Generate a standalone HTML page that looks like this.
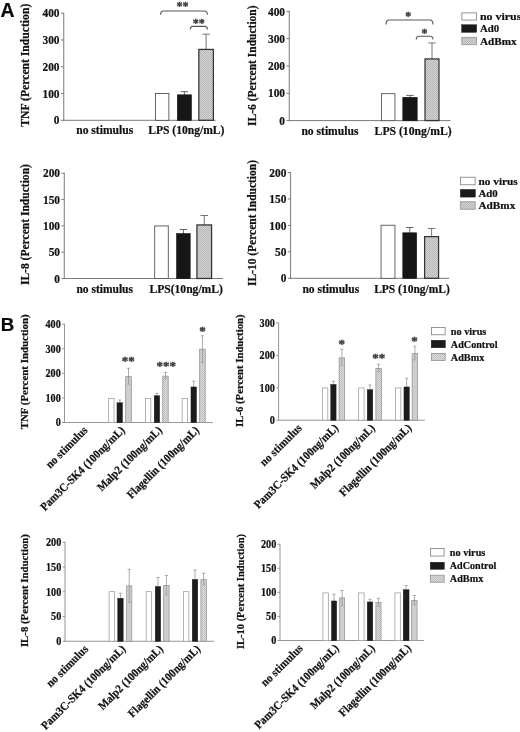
<!DOCTYPE html>
<html lang="en"><head><meta charset="utf-8"><title>Figure: cytokine induction</title>
<style>html,body{margin:0;padding:0;background:#fff}body{width:520px;height:732px;overflow:hidden}svg{display:block;filter:blur(.35px)}text{stroke:#111;stroke-width:.22px}</style>
</head><body>
<svg width='520' height='732' viewBox='0 0 520 732' font-family='"Liberation Serif","Times New Roman",Times,serif' font-weight='bold' fill='#111'>
<defs>
<pattern id="hA" width="2" height="2" patternUnits="userSpaceOnUse"><rect width="2" height="2" fill="#d4d4d4"/><rect width="1" height="1" fill="#b4b4b4"/><rect x="1" y="1" width="1" height="1" fill="#b9b9b9"/></pattern>
<pattern id="hB" width="2" height="2" patternUnits="userSpaceOnUse"><rect width="2" height="2" fill="#dadada"/><rect width="1" height="1" fill="#c0c0c0"/><rect x="1" y="1" width="1" height="1" fill="#c4c4c4"/></pattern>
</defs>
<rect width="520" height="732" fill="#fff"/>
<text x="0.5" y="16.7" font-size="19.4" fill="#0a0a0a" font-family='"Liberation Sans",Arial,Helvetica,sans-serif'>A</text>
<text x="0.8" y="330.7" font-size="18.7" fill="#0a0a0a" font-family='"Liberation Sans",Arial,Helvetica,sans-serif'>B</text>
<line x1="63.75" y1="12.7" x2="63.75" y2="120.8" stroke="#7a7a7a" stroke-width="1"/>
<line x1="63.25" y1="120.3" x2="215.6" y2="120.3" stroke="#7a7a7a" stroke-width="1"/>
<line x1="60.95" y1="120.3" x2="63.75" y2="120.3" stroke="#7a7a7a" stroke-width="1"/>
<text x="59.55" y="124.44" font-size="12.37" text-anchor="end" textLength="5.7" lengthAdjust="spacingAndGlyphs">0</text>
<line x1="60.95" y1="93.53" x2="63.75" y2="93.53" stroke="#7a7a7a" stroke-width="1"/>
<text x="59.55" y="97.67" font-size="12.37" text-anchor="end" textLength="17.1" lengthAdjust="spacingAndGlyphs">100</text>
<line x1="60.95" y1="66.75" x2="63.75" y2="66.75" stroke="#7a7a7a" stroke-width="1"/>
<text x="59.55" y="70.89" font-size="12.37" text-anchor="end" textLength="17.1" lengthAdjust="spacingAndGlyphs">200</text>
<line x1="60.95" y1="39.98" x2="63.75" y2="39.98" stroke="#7a7a7a" stroke-width="1"/>
<text x="59.55" y="44.12" font-size="12.37" text-anchor="end" textLength="17.1" lengthAdjust="spacingAndGlyphs">300</text>
<line x1="60.95" y1="13.2" x2="63.75" y2="13.2" stroke="#7a7a7a" stroke-width="1"/>
<text x="59.55" y="17.34" font-size="12.37" text-anchor="end" textLength="17.1" lengthAdjust="spacingAndGlyphs">400</text>
<rect x="155.45" y="93.45" width="13.4" height="26.9" fill="#fff" stroke="#555" stroke-width="0.9"/>
<line x1="184.4" y1="91.7" x2="184.4" y2="95.5" stroke="#555" stroke-width="0.9"/>
<line x1="180.65" y1="91.7" x2="188.15" y2="91.7" stroke="#555" stroke-width="0.9"/>
<rect x="177.3" y="94.8" width="14.2" height="25.7" fill="#161616" stroke="#161616" stroke-width="0.6"/>
<line x1="206.1" y1="34.2" x2="206.1" y2="49.8" stroke="#666" stroke-width="0.9"/>
<line x1="202.35" y1="34.2" x2="209.85" y2="34.2" stroke="#666" stroke-width="0.9"/>
<rect x="198.82" y="49.42" width="14.55" height="70.85" fill="url(#hA)" stroke="#333" stroke-width="1.25"/>
<path d="M160.5 14.8 Q160.5 11 163.7 11 L204.2 11 Q207.4 11 207.4 14.8" fill="none" stroke="#5a5a5a" stroke-width="1.15"/>
<text x="182.6" y="9.94" font-size="12" text-anchor="middle" fill="#3a3a3a" style="stroke:#3a3a3a;stroke-width:.35px">**</text>
<path d="M190.3 29.4 Q190.3 26.4 192.9 26.4 L204.8 26.4 Q207.4 26.4 207.4 29.4" fill="none" stroke="#5a5a5a" stroke-width="1.15"/>
<text x="198.8" y="26.74" font-size="12" text-anchor="middle" fill="#3a3a3a" style="stroke:#3a3a3a;stroke-width:.35px">**</text>
<text x="76.2" y="134.4" font-size="12.3" textLength="57" lengthAdjust="spacingAndGlyphs">no stimulus</text>
<text x="148.2" y="134.4" font-size="12.3" textLength="76.2" lengthAdjust="spacingAndGlyphs">LPS (10ng/mL)</text>
<text x="29.4" y="65.2" font-size="11.9" text-anchor="middle" textLength="123" lengthAdjust="spacingAndGlyphs" transform="rotate(-90 29.4 65.2)">TNF (Percent Induction)</text>
<line x1="289.25" y1="10.9" x2="289.25" y2="121.1" stroke="#7a7a7a" stroke-width="1"/>
<line x1="288.75" y1="120.6" x2="450.5" y2="120.6" stroke="#7a7a7a" stroke-width="1"/>
<line x1="286.45" y1="120.6" x2="289.25" y2="120.6" stroke="#7a7a7a" stroke-width="1"/>
<text x="285.05" y="124.74" font-size="12.37" text-anchor="end" textLength="5.7" lengthAdjust="spacingAndGlyphs">0</text>
<line x1="286.45" y1="93.3" x2="289.25" y2="93.3" stroke="#7a7a7a" stroke-width="1"/>
<text x="285.05" y="97.44" font-size="12.37" text-anchor="end" textLength="17.1" lengthAdjust="spacingAndGlyphs">100</text>
<line x1="286.45" y1="66" x2="289.25" y2="66" stroke="#7a7a7a" stroke-width="1"/>
<text x="285.05" y="70.14" font-size="12.37" text-anchor="end" textLength="17.1" lengthAdjust="spacingAndGlyphs">200</text>
<line x1="286.45" y1="38.7" x2="289.25" y2="38.7" stroke="#7a7a7a" stroke-width="1"/>
<text x="285.05" y="42.84" font-size="12.37" text-anchor="end" textLength="17.1" lengthAdjust="spacingAndGlyphs">300</text>
<line x1="286.45" y1="11.4" x2="289.25" y2="11.4" stroke="#7a7a7a" stroke-width="1"/>
<text x="285.05" y="15.54" font-size="12.37" text-anchor="end" textLength="17.1" lengthAdjust="spacingAndGlyphs">400</text>
<rect x="381.45" y="93.65" width="13.5" height="27" fill="#fff" stroke="#555" stroke-width="0.9"/>
<line x1="410" y1="95.4" x2="410" y2="98" stroke="#555" stroke-width="0.9"/>
<line x1="406.25" y1="95.4" x2="413.75" y2="95.4" stroke="#555" stroke-width="0.9"/>
<rect x="402.8" y="97.3" width="14.4" height="23.5" fill="#161616" stroke="#161616" stroke-width="0.6"/>
<line x1="432" y1="43" x2="432" y2="59.3" stroke="#666" stroke-width="0.9"/>
<line x1="428.25" y1="43" x2="435.75" y2="43" stroke="#666" stroke-width="0.9"/>
<rect x="425.02" y="58.92" width="13.95" height="61.65" fill="url(#hA)" stroke="#333" stroke-width="1.25"/>
<path d="M386 24.4 Q386 20 389.2 20 L429.8 20 Q433 20 433 24.4" fill="none" stroke="#5a5a5a" stroke-width="1.15"/>
<text x="408.3" y="19.74" font-size="12" text-anchor="middle" fill="#3a3a3a" style="stroke:#3a3a3a;stroke-width:.35px">*</text>
<path d="M416.3 39.6 Q416.3 36.2 418.9 36.2 L430.4 36.2 Q433 36.2 433 39.6" fill="none" stroke="#5a5a5a" stroke-width="1.15"/>
<text x="424.6" y="36.74" font-size="12" text-anchor="middle" fill="#3a3a3a" style="stroke:#3a3a3a;stroke-width:.35px">*</text>
<text x="301.4" y="134.8" font-size="12.3" textLength="57" lengthAdjust="spacingAndGlyphs">no stimulus</text>
<text x="374.6" y="134.8" font-size="12.3" textLength="77" lengthAdjust="spacingAndGlyphs">LPS (10ng/mL)</text>
<text x="256.5" y="65.7" font-size="12.1" text-anchor="middle" textLength="120.5" lengthAdjust="spacingAndGlyphs" transform="rotate(-90 256.5 65.7)">IL-6 (Percent Induction)</text>
<rect x="461.85" y="12.85" width="14.6" height="7.2" fill="#fff" stroke="#8a8a8a" stroke-width="0.9"/>
<rect x="461.6" y="24.7" width="15.1" height="7.7" fill="#1a1a1a" stroke="#1a1a1a" stroke-width="0.4"/>
<rect x="461.85" y="37.35" width="14.6" height="7.3" fill="url(#hA)" stroke="#9a9a9a" stroke-width="0.9"/>
<text x="479.9" y="19.8" font-size="11.4" textLength="41.5" lengthAdjust="spacingAndGlyphs">no virus</text>
<text x="479.9" y="31.9" font-size="11.4" textLength="19.2" lengthAdjust="spacingAndGlyphs">Ad0</text>
<text x="479.9" y="44.7" font-size="11.4" textLength="36.7" lengthAdjust="spacingAndGlyphs">AdBmx</text>
<line x1="64.25" y1="172.75" x2="64.25" y2="279" stroke="#7a7a7a" stroke-width="1"/>
<line x1="63.75" y1="278.5" x2="223" y2="278.5" stroke="#7a7a7a" stroke-width="1"/>
<line x1="61.45" y1="278.5" x2="64.25" y2="278.5" stroke="#7a7a7a" stroke-width="1"/>
<text x="60.05" y="282.64" font-size="12.37" text-anchor="end" textLength="5.7" lengthAdjust="spacingAndGlyphs">0</text>
<line x1="61.45" y1="252.19" x2="64.25" y2="252.19" stroke="#7a7a7a" stroke-width="1"/>
<text x="60.05" y="256.33" font-size="12.37" text-anchor="end" textLength="11.4" lengthAdjust="spacingAndGlyphs">50</text>
<line x1="61.45" y1="225.88" x2="64.25" y2="225.88" stroke="#7a7a7a" stroke-width="1"/>
<text x="60.05" y="230.02" font-size="12.37" text-anchor="end" textLength="17.1" lengthAdjust="spacingAndGlyphs">100</text>
<line x1="61.45" y1="199.56" x2="64.25" y2="199.56" stroke="#7a7a7a" stroke-width="1"/>
<text x="60.05" y="203.71" font-size="12.37" text-anchor="end" textLength="17.1" lengthAdjust="spacingAndGlyphs">150</text>
<line x1="61.45" y1="173.25" x2="64.25" y2="173.25" stroke="#7a7a7a" stroke-width="1"/>
<text x="60.05" y="177.39" font-size="12.37" text-anchor="end" textLength="17.1" lengthAdjust="spacingAndGlyphs">200</text>
<rect x="154.7" y="225.95" width="13.6" height="52.6" fill="#fff" stroke="#555" stroke-width="0.9"/>
<line x1="183.38" y1="229.5" x2="183.38" y2="234.25" stroke="#555" stroke-width="0.9"/>
<line x1="179.62" y1="229.5" x2="187.12" y2="229.5" stroke="#555" stroke-width="0.9"/>
<rect x="176.55" y="233.55" width="13.65" height="45.15" fill="#161616" stroke="#161616" stroke-width="0.6"/>
<line x1="204.25" y1="215.5" x2="204.25" y2="225.3" stroke="#666" stroke-width="0.9"/>
<line x1="200.5" y1="215.5" x2="208" y2="215.5" stroke="#666" stroke-width="0.9"/>
<rect x="196.93" y="224.93" width="14.65" height="53.55" fill="url(#hA)" stroke="#333" stroke-width="1.25"/>
<text x="76.4" y="292.8" font-size="12.3" textLength="56.6" lengthAdjust="spacingAndGlyphs">no stimulus</text>
<text x="149.4" y="292.8" font-size="12.3" textLength="73.5" lengthAdjust="spacingAndGlyphs">LPS(10ng/mL)</text>
<text x="28.7" y="224.6" font-size="12.1" text-anchor="middle" textLength="121" lengthAdjust="spacingAndGlyphs" transform="rotate(-90 28.7 224.6)">IL-8 (Percent Induction)</text>
<line x1="290.6" y1="172" x2="290.6" y2="278.8" stroke="#7a7a7a" stroke-width="1"/>
<line x1="290.1" y1="278.3" x2="449.3" y2="278.3" stroke="#7a7a7a" stroke-width="1"/>
<line x1="287.8" y1="278.3" x2="290.6" y2="278.3" stroke="#7a7a7a" stroke-width="1"/>
<text x="286.4" y="282.44" font-size="12.37" text-anchor="end" textLength="5.7" lengthAdjust="spacingAndGlyphs">0</text>
<line x1="287.8" y1="251.85" x2="290.6" y2="251.85" stroke="#7a7a7a" stroke-width="1"/>
<text x="286.4" y="255.99" font-size="12.37" text-anchor="end" textLength="11.4" lengthAdjust="spacingAndGlyphs">50</text>
<line x1="287.8" y1="225.4" x2="290.6" y2="225.4" stroke="#7a7a7a" stroke-width="1"/>
<text x="286.4" y="229.54" font-size="12.37" text-anchor="end" textLength="17.1" lengthAdjust="spacingAndGlyphs">100</text>
<line x1="287.8" y1="198.95" x2="290.6" y2="198.95" stroke="#7a7a7a" stroke-width="1"/>
<text x="286.4" y="203.09" font-size="12.37" text-anchor="end" textLength="17.1" lengthAdjust="spacingAndGlyphs">150</text>
<line x1="287.8" y1="172.5" x2="290.6" y2="172.5" stroke="#7a7a7a" stroke-width="1"/>
<text x="286.4" y="176.64" font-size="12.37" text-anchor="end" textLength="17.1" lengthAdjust="spacingAndGlyphs">200</text>
<rect x="381.05" y="225.25" width="13.9" height="53.1" fill="#fff" stroke="#555" stroke-width="0.9"/>
<line x1="409.75" y1="227.5" x2="409.75" y2="233.5" stroke="#555" stroke-width="0.9"/>
<line x1="406" y1="227.5" x2="413.5" y2="227.5" stroke="#555" stroke-width="0.9"/>
<rect x="402.8" y="232.8" width="13.9" height="45.7" fill="#161616" stroke="#161616" stroke-width="0.6"/>
<line x1="431.6" y1="228.5" x2="431.6" y2="237" stroke="#666" stroke-width="0.9"/>
<line x1="427.85" y1="228.5" x2="435.35" y2="228.5" stroke="#666" stroke-width="0.9"/>
<rect x="424.62" y="236.62" width="13.95" height="41.65" fill="url(#hA)" stroke="#333" stroke-width="1.25"/>
<text x="302.4" y="292.6" font-size="12.3" textLength="56.8" lengthAdjust="spacingAndGlyphs">no stimulus</text>
<text x="374.2" y="292.6" font-size="12.3" textLength="75.6" lengthAdjust="spacingAndGlyphs">LPS (10ng/mL)</text>
<text x="256.4" y="223" font-size="12.1" text-anchor="middle" textLength="126" lengthAdjust="spacingAndGlyphs" transform="rotate(-90 256.4 223)">IL-10 (Percent Induction)</text>
<rect x="460.55" y="177.25" width="14.6" height="7.5" fill="#fff" stroke="#8a8a8a" stroke-width="0.9"/>
<rect x="460.3" y="189.4" width="15.1" height="7.7" fill="#1a1a1a" stroke="#1a1a1a" stroke-width="0.4"/>
<rect x="460.55" y="201.75" width="14.6" height="7.5" fill="url(#hA)" stroke="#9a9a9a" stroke-width="0.9"/>
<text x="478.5" y="184.9" font-size="11.4" textLength="39.2" lengthAdjust="spacingAndGlyphs">no virus</text>
<text x="478.5" y="197" font-size="11.4" textLength="19.3" lengthAdjust="spacingAndGlyphs">Ad0</text>
<text x="478.5" y="209.4" font-size="11.4" textLength="36.8" lengthAdjust="spacingAndGlyphs">AdBmx</text>
<line x1="64.5" y1="323.75" x2="64.5" y2="423" stroke="#969696" stroke-width="1"/>
<line x1="64" y1="422.5" x2="212.8" y2="422.5" stroke="#969696" stroke-width="1"/>
<line x1="62.1" y1="422.5" x2="64.5" y2="422.5" stroke="#969696" stroke-width="1"/>
<text x="60.8" y="426.4" font-size="11.63" text-anchor="end" textLength="5.1" lengthAdjust="spacingAndGlyphs">0</text>
<line x1="62.1" y1="397.94" x2="64.5" y2="397.94" stroke="#969696" stroke-width="1"/>
<text x="60.8" y="401.83" font-size="11.63" text-anchor="end" textLength="15.3" lengthAdjust="spacingAndGlyphs">100</text>
<line x1="62.1" y1="373.38" x2="64.5" y2="373.38" stroke="#969696" stroke-width="1"/>
<text x="60.8" y="377.27" font-size="11.63" text-anchor="end" textLength="15.3" lengthAdjust="spacingAndGlyphs">200</text>
<line x1="62.1" y1="348.81" x2="64.5" y2="348.81" stroke="#969696" stroke-width="1"/>
<text x="60.8" y="352.71" font-size="11.63" text-anchor="end" textLength="15.3" lengthAdjust="spacingAndGlyphs">300</text>
<line x1="62.1" y1="324.25" x2="64.5" y2="324.25" stroke="#969696" stroke-width="1"/>
<text x="60.8" y="328.15" font-size="11.63" text-anchor="end" textLength="15.3" lengthAdjust="spacingAndGlyphs">400</text>
<rect x="108.65" y="398.4" width="5.35" height="24.1" fill="#fff" stroke="#a0a0a0" stroke-width="0.8"/>
<line x1="119.75" y1="400" x2="119.75" y2="403.5" stroke="#8a8a8a" stroke-width="0.7"/>
<line x1="118.15" y1="400" x2="121.35" y2="400" stroke="#8a8a8a" stroke-width="0.7"/>
<rect x="116.95" y="402.7" width="5.6" height="20" fill="#1c1c1c" stroke="#1c1c1c" stroke-width="0.4"/>
<rect x="125.65" y="376.65" width="5.7" height="45.85" fill="url(#hB)" stroke="#969696" stroke-width="0.8"/>
<line x1="128.5" y1="368.25" x2="128.5" y2="384.25" stroke="#8a8a8a" stroke-width="0.7"/>
<line x1="126.9" y1="368.25" x2="130.1" y2="368.25" stroke="#8a8a8a" stroke-width="0.7"/>
<line x1="126.9" y1="384.25" x2="130.1" y2="384.25" stroke="#9a9a9a" stroke-width="0.6"/>
<rect x="145.4" y="398.4" width="5.45" height="24.1" fill="#fff" stroke="#a0a0a0" stroke-width="0.8"/>
<line x1="156.95" y1="393.25" x2="156.95" y2="396.5" stroke="#8a8a8a" stroke-width="0.7"/>
<line x1="155.35" y1="393.25" x2="158.55" y2="393.25" stroke="#8a8a8a" stroke-width="0.7"/>
<rect x="154.2" y="395.7" width="5.5" height="27" fill="#1c1c1c" stroke="#1c1c1c" stroke-width="0.4"/>
<rect x="162.8" y="376.15" width="5.4" height="46.35" fill="url(#hB)" stroke="#969696" stroke-width="0.8"/>
<line x1="165.5" y1="372.5" x2="165.5" y2="378.75" stroke="#8a8a8a" stroke-width="0.7"/>
<line x1="163.9" y1="372.5" x2="167.1" y2="372.5" stroke="#8a8a8a" stroke-width="0.7"/>
<line x1="163.9" y1="378.75" x2="167.1" y2="378.75" stroke="#9a9a9a" stroke-width="0.6"/>
<rect x="182.15" y="398.4" width="5.45" height="24.1" fill="#fff" stroke="#a0a0a0" stroke-width="0.8"/>
<line x1="193.75" y1="381.25" x2="193.75" y2="387.75" stroke="#8a8a8a" stroke-width="0.7"/>
<line x1="192.15" y1="381.25" x2="195.35" y2="381.25" stroke="#8a8a8a" stroke-width="0.7"/>
<rect x="190.95" y="386.95" width="5.6" height="35.75" fill="#1c1c1c" stroke="#1c1c1c" stroke-width="0.4"/>
<rect x="199.65" y="349.15" width="5.55" height="73.35" fill="url(#hB)" stroke="#969696" stroke-width="0.8"/>
<line x1="202.43" y1="335.75" x2="202.43" y2="362.5" stroke="#8a8a8a" stroke-width="0.7"/>
<line x1="200.83" y1="335.75" x2="204.03" y2="335.75" stroke="#8a8a8a" stroke-width="0.7"/>
<line x1="200.83" y1="362.5" x2="204.03" y2="362.5" stroke="#9a9a9a" stroke-width="0.6"/>
<text x="128.25" y="365.31" font-size="13" text-anchor="middle" fill="#3a3a3a" style="stroke:#3a3a3a;stroke-width:.35px">**</text>
<text x="166.25" y="370.31" font-size="13" text-anchor="middle" fill="#3a3a3a" style="stroke:#3a3a3a;stroke-width:.35px">***</text>
<text x="202.5" y="334.61" font-size="13" text-anchor="middle" fill="#3a3a3a" style="stroke:#3a3a3a;stroke-width:.35px">*</text>
<text x="88.34" y="430.9" font-size="11.7" text-anchor="end" textLength="54" lengthAdjust="spacingAndGlyphs" transform="rotate(-45 88.34 430.9)">no stimulus</text>
<text x="125.53" y="430.9" font-size="11.7" text-anchor="end" textLength="114" lengthAdjust="spacingAndGlyphs" transform="rotate(-45 125.53 430.9)">Pam3C-SK4 (100ng/mL)</text>
<text x="162.72" y="430.9" font-size="11.7" text-anchor="end" textLength="86.2" lengthAdjust="spacingAndGlyphs" transform="rotate(-45 162.72 430.9)">Malp2 (100ng/mL)</text>
<text x="199.91" y="430.9" font-size="11.7" text-anchor="end" textLength="96.8" lengthAdjust="spacingAndGlyphs" transform="rotate(-45 199.91 430.9)">Flagellin (100ng/mL)</text>
<text x="28.2" y="371.8" font-size="11" text-anchor="middle" textLength="115" lengthAdjust="spacingAndGlyphs" transform="rotate(-90 28.2 371.8)">TNF (Percent Induction)</text>
<line x1="278.6" y1="322.5" x2="278.6" y2="420.7" stroke="#969696" stroke-width="1"/>
<line x1="278.1" y1="420.2" x2="424.8" y2="420.2" stroke="#969696" stroke-width="1"/>
<line x1="276.2" y1="420.2" x2="278.6" y2="420.2" stroke="#969696" stroke-width="1"/>
<text x="274.9" y="424.1" font-size="11.63" text-anchor="end" textLength="5.1" lengthAdjust="spacingAndGlyphs">0</text>
<line x1="276.2" y1="387.8" x2="278.6" y2="387.8" stroke="#969696" stroke-width="1"/>
<text x="274.9" y="391.7" font-size="11.63" text-anchor="end" textLength="15.3" lengthAdjust="spacingAndGlyphs">100</text>
<line x1="276.2" y1="355.4" x2="278.6" y2="355.4" stroke="#969696" stroke-width="1"/>
<text x="274.9" y="359.3" font-size="11.63" text-anchor="end" textLength="15.3" lengthAdjust="spacingAndGlyphs">200</text>
<line x1="276.2" y1="323" x2="278.6" y2="323" stroke="#969696" stroke-width="1"/>
<text x="274.9" y="326.9" font-size="11.63" text-anchor="end" textLength="15.3" lengthAdjust="spacingAndGlyphs">300</text>
<rect x="322.4" y="387.9" width="5.4" height="32.3" fill="#fff" stroke="#a0a0a0" stroke-width="0.8"/>
<line x1="333.4" y1="381.25" x2="333.4" y2="385.25" stroke="#8a8a8a" stroke-width="0.7"/>
<line x1="331.8" y1="381.25" x2="335" y2="381.25" stroke="#8a8a8a" stroke-width="0.7"/>
<rect x="330.7" y="384.45" width="5.4" height="35.95" fill="#1c1c1c" stroke="#1c1c1c" stroke-width="0.4"/>
<rect x="339.15" y="357.9" width="5.45" height="62.3" fill="url(#hB)" stroke="#969696" stroke-width="0.8"/>
<line x1="341.88" y1="349.25" x2="341.88" y2="365.5" stroke="#8a8a8a" stroke-width="0.7"/>
<line x1="340.27" y1="349.25" x2="343.48" y2="349.25" stroke="#8a8a8a" stroke-width="0.7"/>
<line x1="340.27" y1="365.5" x2="343.48" y2="365.5" stroke="#9a9a9a" stroke-width="0.6"/>
<rect x="358.65" y="387.9" width="5.45" height="32.3" fill="#fff" stroke="#a0a0a0" stroke-width="0.8"/>
<line x1="370" y1="385" x2="370" y2="390.5" stroke="#8a8a8a" stroke-width="0.7"/>
<line x1="368.4" y1="385" x2="371.6" y2="385" stroke="#8a8a8a" stroke-width="0.7"/>
<rect x="367.2" y="389.7" width="5.6" height="30.7" fill="#1c1c1c" stroke="#1c1c1c" stroke-width="0.4"/>
<rect x="375.9" y="368.4" width="5.45" height="51.8" fill="url(#hB)" stroke="#969696" stroke-width="0.8"/>
<line x1="378.62" y1="364.25" x2="378.62" y2="371.75" stroke="#8a8a8a" stroke-width="0.7"/>
<line x1="377.02" y1="364.25" x2="380.23" y2="364.25" stroke="#8a8a8a" stroke-width="0.7"/>
<line x1="377.02" y1="371.75" x2="380.23" y2="371.75" stroke="#9a9a9a" stroke-width="0.6"/>
<rect x="395.4" y="387.9" width="5.45" height="32.3" fill="#fff" stroke="#a0a0a0" stroke-width="0.8"/>
<line x1="406.68" y1="378.25" x2="406.68" y2="387.75" stroke="#8a8a8a" stroke-width="0.7"/>
<line x1="405.07" y1="378.25" x2="408.28" y2="378.25" stroke="#8a8a8a" stroke-width="0.7"/>
<rect x="403.95" y="386.95" width="5.45" height="33.45" fill="#1c1c1c" stroke="#1c1c1c" stroke-width="0.4"/>
<rect x="412.15" y="353.65" width="5.45" height="66.55" fill="url(#hB)" stroke="#969696" stroke-width="0.8"/>
<line x1="414.88" y1="346.25" x2="414.88" y2="360" stroke="#8a8a8a" stroke-width="0.7"/>
<line x1="413.27" y1="346.25" x2="416.48" y2="346.25" stroke="#8a8a8a" stroke-width="0.7"/>
<line x1="413.27" y1="360" x2="416.48" y2="360" stroke="#9a9a9a" stroke-width="0.6"/>
<text x="341.75" y="347.81" font-size="13" text-anchor="middle" fill="#3a3a3a" style="stroke:#3a3a3a;stroke-width:.35px">*</text>
<text x="378.75" y="362.01" font-size="13" text-anchor="middle" fill="#3a3a3a" style="stroke:#3a3a3a;stroke-width:.35px">**</text>
<text x="414.5" y="345.31" font-size="13" text-anchor="middle" fill="#3a3a3a" style="stroke:#3a3a3a;stroke-width:.35px">*</text>
<text x="302.53" y="428.6" font-size="11.7" text-anchor="end" textLength="54" lengthAdjust="spacingAndGlyphs" transform="rotate(-45 302.53 428.6)">no stimulus</text>
<text x="339.09" y="428.6" font-size="11.7" text-anchor="end" textLength="114" lengthAdjust="spacingAndGlyphs" transform="rotate(-45 339.09 428.6)">Pam3C-SK4 (100ng/mL)</text>
<text x="375.66" y="428.6" font-size="11.7" text-anchor="end" textLength="86.2" lengthAdjust="spacingAndGlyphs" transform="rotate(-45 375.66 428.6)">Malp2 (100ng/mL)</text>
<text x="412.22" y="428.6" font-size="11.7" text-anchor="end" textLength="96.8" lengthAdjust="spacingAndGlyphs" transform="rotate(-45 412.22 428.6)">Flagellin (100ng/mL)</text>
<text x="243.5" y="370.7" font-size="11" text-anchor="middle" textLength="112.5" lengthAdjust="spacingAndGlyphs" transform="rotate(-90 243.5 370.7)">IL-6 (Percent Induction)</text>
<rect x="431.45" y="327.45" width="13.7" height="7.3" fill="#fff" stroke="#8a8a8a" stroke-width="0.9"/>
<rect x="431.2" y="340.2" width="14.2" height="7.6" fill="#1a1a1a" stroke="#1a1a1a" stroke-width="0.4"/>
<rect x="431.45" y="353.45" width="13.7" height="7.1" fill="url(#hB)" stroke="#9a9a9a" stroke-width="0.9"/>
<text x="450.8" y="334.8" font-size="11.2" textLength="35.5" lengthAdjust="spacingAndGlyphs">no virus</text>
<text x="450.8" y="347.7" font-size="11.2" textLength="46.7" lengthAdjust="spacingAndGlyphs">AdControl</text>
<text x="450.8" y="360.8" font-size="11.2" textLength="33.5" lengthAdjust="spacingAndGlyphs">AdBmx</text>
<line x1="65" y1="541.8" x2="65" y2="641.75" stroke="#969696" stroke-width="1"/>
<line x1="64.5" y1="641.25" x2="214" y2="641.25" stroke="#969696" stroke-width="1"/>
<line x1="62.6" y1="641.25" x2="65" y2="641.25" stroke="#969696" stroke-width="1"/>
<text x="61.3" y="645.15" font-size="11.63" text-anchor="end" textLength="5.1" lengthAdjust="spacingAndGlyphs">0</text>
<line x1="62.6" y1="616.51" x2="65" y2="616.51" stroke="#969696" stroke-width="1"/>
<text x="61.3" y="620.41" font-size="11.63" text-anchor="end" textLength="10.2" lengthAdjust="spacingAndGlyphs">50</text>
<line x1="62.6" y1="591.77" x2="65" y2="591.77" stroke="#969696" stroke-width="1"/>
<text x="61.3" y="595.67" font-size="11.63" text-anchor="end" textLength="15.3" lengthAdjust="spacingAndGlyphs">100</text>
<line x1="62.6" y1="567.04" x2="65" y2="567.04" stroke="#969696" stroke-width="1"/>
<text x="61.3" y="570.93" font-size="11.63" text-anchor="end" textLength="15.3" lengthAdjust="spacingAndGlyphs">150</text>
<line x1="62.6" y1="542.3" x2="65" y2="542.3" stroke="#969696" stroke-width="1"/>
<text x="61.3" y="546.2" font-size="11.63" text-anchor="end" textLength="15.3" lengthAdjust="spacingAndGlyphs">200</text>
<rect x="109.15" y="591.65" width="5.45" height="49.6" fill="#fff" stroke="#a0a0a0" stroke-width="0.8"/>
<line x1="120.45" y1="593.25" x2="120.45" y2="599" stroke="#8a8a8a" stroke-width="0.7"/>
<line x1="118.85" y1="593.25" x2="122.05" y2="593.25" stroke="#8a8a8a" stroke-width="0.7"/>
<rect x="117.7" y="598.2" width="5.5" height="43.25" fill="#1c1c1c" stroke="#1c1c1c" stroke-width="0.4"/>
<rect x="126.65" y="585.9" width="5.15" height="55.35" fill="url(#hB)" stroke="#969696" stroke-width="0.8"/>
<line x1="129.22" y1="569.25" x2="129.22" y2="602.5" stroke="#8a8a8a" stroke-width="0.7"/>
<line x1="127.62" y1="569.25" x2="130.82" y2="569.25" stroke="#8a8a8a" stroke-width="0.7"/>
<line x1="127.62" y1="602.5" x2="130.82" y2="602.5" stroke="#9a9a9a" stroke-width="0.6"/>
<rect x="146.15" y="591.65" width="5.45" height="49.6" fill="#fff" stroke="#a0a0a0" stroke-width="0.8"/>
<line x1="157.95" y1="577.5" x2="157.95" y2="587.25" stroke="#8a8a8a" stroke-width="0.7"/>
<line x1="156.35" y1="577.5" x2="159.55" y2="577.5" stroke="#8a8a8a" stroke-width="0.7"/>
<rect x="155.2" y="586.45" width="5.5" height="55" fill="#1c1c1c" stroke="#1c1c1c" stroke-width="0.4"/>
<rect x="163.65" y="585.4" width="5.45" height="55.85" fill="url(#hB)" stroke="#969696" stroke-width="0.8"/>
<line x1="166.38" y1="575.5" x2="166.38" y2="595" stroke="#8a8a8a" stroke-width="0.7"/>
<line x1="164.78" y1="575.5" x2="167.97" y2="575.5" stroke="#8a8a8a" stroke-width="0.7"/>
<line x1="164.78" y1="595" x2="167.97" y2="595" stroke="#9a9a9a" stroke-width="0.6"/>
<rect x="183.4" y="591.65" width="5.45" height="49.6" fill="#fff" stroke="#a0a0a0" stroke-width="0.8"/>
<line x1="195" y1="570" x2="195" y2="580.25" stroke="#8a8a8a" stroke-width="0.7"/>
<line x1="193.4" y1="570" x2="196.6" y2="570" stroke="#8a8a8a" stroke-width="0.7"/>
<rect x="192.2" y="579.45" width="5.6" height="62" fill="#1c1c1c" stroke="#1c1c1c" stroke-width="0.4"/>
<rect x="200.9" y="579.65" width="5.45" height="61.6" fill="url(#hB)" stroke="#969696" stroke-width="0.8"/>
<line x1="203.62" y1="573.25" x2="203.62" y2="585" stroke="#8a8a8a" stroke-width="0.7"/>
<line x1="202.03" y1="573.25" x2="205.22" y2="573.25" stroke="#8a8a8a" stroke-width="0.7"/>
<line x1="202.03" y1="585" x2="205.22" y2="585" stroke="#9a9a9a" stroke-width="0.6"/>
<text x="88.94" y="649.65" font-size="11.7" text-anchor="end" textLength="54" lengthAdjust="spacingAndGlyphs" transform="rotate(-45 88.94 649.65)">no stimulus</text>
<text x="126.31" y="649.65" font-size="11.7" text-anchor="end" textLength="114" lengthAdjust="spacingAndGlyphs" transform="rotate(-45 126.31 649.65)">Pam3C-SK4 (100ng/mL)</text>
<text x="163.69" y="649.65" font-size="11.7" text-anchor="end" textLength="86.2" lengthAdjust="spacingAndGlyphs" transform="rotate(-45 163.69 649.65)">Malp2 (100ng/mL)</text>
<text x="201.06" y="649.65" font-size="11.7" text-anchor="end" textLength="96.8" lengthAdjust="spacingAndGlyphs" transform="rotate(-45 201.06 649.65)">Flagellin (100ng/mL)</text>
<text x="27.9" y="590.6" font-size="11" text-anchor="middle" textLength="113" lengthAdjust="spacingAndGlyphs" transform="rotate(-90 27.9 590.6)">IL-8 (Percent Induction)</text>
<line x1="280" y1="543.75" x2="280" y2="641" stroke="#969696" stroke-width="1"/>
<line x1="279.5" y1="640.5" x2="424" y2="640.5" stroke="#969696" stroke-width="1"/>
<line x1="277.6" y1="640.5" x2="280" y2="640.5" stroke="#969696" stroke-width="1"/>
<text x="276.3" y="644.4" font-size="11.63" text-anchor="end" textLength="5.1" lengthAdjust="spacingAndGlyphs">0</text>
<line x1="277.6" y1="616.44" x2="280" y2="616.44" stroke="#969696" stroke-width="1"/>
<text x="276.3" y="620.33" font-size="11.63" text-anchor="end" textLength="10.2" lengthAdjust="spacingAndGlyphs">50</text>
<line x1="277.6" y1="592.38" x2="280" y2="592.38" stroke="#969696" stroke-width="1"/>
<text x="276.3" y="596.27" font-size="11.63" text-anchor="end" textLength="15.3" lengthAdjust="spacingAndGlyphs">100</text>
<line x1="277.6" y1="568.31" x2="280" y2="568.31" stroke="#969696" stroke-width="1"/>
<text x="276.3" y="572.21" font-size="11.63" text-anchor="end" textLength="15.3" lengthAdjust="spacingAndGlyphs">150</text>
<line x1="277.6" y1="544.25" x2="280" y2="544.25" stroke="#969696" stroke-width="1"/>
<text x="276.3" y="548.15" font-size="11.63" text-anchor="end" textLength="15.3" lengthAdjust="spacingAndGlyphs">200</text>
<rect x="322.9" y="592.9" width="5.45" height="47.6" fill="#fff" stroke="#a0a0a0" stroke-width="0.8"/>
<line x1="334.07" y1="594.25" x2="334.07" y2="601.75" stroke="#8a8a8a" stroke-width="0.7"/>
<line x1="332.47" y1="594.25" x2="335.68" y2="594.25" stroke="#8a8a8a" stroke-width="0.7"/>
<rect x="331.45" y="600.95" width="5.25" height="39.75" fill="#1c1c1c" stroke="#1c1c1c" stroke-width="0.4"/>
<rect x="339.65" y="597.9" width="4.95" height="42.6" fill="url(#hB)" stroke="#969696" stroke-width="0.8"/>
<line x1="342.12" y1="590.5" x2="342.12" y2="605.75" stroke="#8a8a8a" stroke-width="0.7"/>
<line x1="340.52" y1="590.5" x2="343.73" y2="590.5" stroke="#8a8a8a" stroke-width="0.7"/>
<line x1="340.52" y1="605.75" x2="343.73" y2="605.75" stroke="#9a9a9a" stroke-width="0.6"/>
<rect x="358.65" y="592.9" width="5.45" height="47.6" fill="#fff" stroke="#a0a0a0" stroke-width="0.8"/>
<line x1="370" y1="599.25" x2="370" y2="602.75" stroke="#8a8a8a" stroke-width="0.7"/>
<line x1="368.4" y1="599.25" x2="371.6" y2="599.25" stroke="#8a8a8a" stroke-width="0.7"/>
<rect x="367.2" y="601.95" width="5.6" height="38.75" fill="#1c1c1c" stroke="#1c1c1c" stroke-width="0.4"/>
<rect x="375.9" y="602.4" width="5.1" height="38.1" fill="url(#hB)" stroke="#969696" stroke-width="0.8"/>
<line x1="378.45" y1="598.25" x2="378.45" y2="606.25" stroke="#8a8a8a" stroke-width="0.7"/>
<line x1="376.85" y1="598.25" x2="380.05" y2="598.25" stroke="#8a8a8a" stroke-width="0.7"/>
<line x1="376.85" y1="606.25" x2="380.05" y2="606.25" stroke="#9a9a9a" stroke-width="0.6"/>
<rect x="394.9" y="592.9" width="5.45" height="47.6" fill="#fff" stroke="#a0a0a0" stroke-width="0.8"/>
<line x1="406.12" y1="585.5" x2="406.12" y2="590.5" stroke="#8a8a8a" stroke-width="0.7"/>
<line x1="404.52" y1="585.5" x2="407.73" y2="585.5" stroke="#8a8a8a" stroke-width="0.7"/>
<rect x="403.2" y="589.7" width="5.85" height="51" fill="#1c1c1c" stroke="#1c1c1c" stroke-width="0.4"/>
<rect x="411.65" y="600.4" width="5.45" height="40.1" fill="url(#hB)" stroke="#969696" stroke-width="0.8"/>
<line x1="414.38" y1="595.5" x2="414.38" y2="605" stroke="#8a8a8a" stroke-width="0.7"/>
<line x1="412.77" y1="595.5" x2="415.98" y2="595.5" stroke="#8a8a8a" stroke-width="0.7"/>
<line x1="412.77" y1="605" x2="415.98" y2="605" stroke="#9a9a9a" stroke-width="0.6"/>
<text x="303.53" y="648.9" font-size="11.7" text-anchor="end" textLength="54" lengthAdjust="spacingAndGlyphs" transform="rotate(-45 303.53 648.9)">no stimulus</text>
<text x="339.59" y="648.9" font-size="11.7" text-anchor="end" textLength="114" lengthAdjust="spacingAndGlyphs" transform="rotate(-45 339.59 648.9)">Pam3C-SK4 (100ng/mL)</text>
<text x="375.66" y="648.9" font-size="11.7" text-anchor="end" textLength="86.2" lengthAdjust="spacingAndGlyphs" transform="rotate(-45 375.66 648.9)">Malp2 (100ng/mL)</text>
<text x="411.72" y="648.9" font-size="11.7" text-anchor="end" textLength="96.8" lengthAdjust="spacingAndGlyphs" transform="rotate(-45 411.72 648.9)">Flagellin (100ng/mL)</text>
<text x="244" y="591.5" font-size="11" text-anchor="middle" textLength="115" lengthAdjust="spacingAndGlyphs" transform="rotate(-90 244 591.5)">IL-10 (Percent Induction)</text>
<rect x="430.45" y="548.45" width="13.7" height="7.6" fill="#fff" stroke="#8a8a8a" stroke-width="0.9"/>
<rect x="430.2" y="562.2" width="14.2" height="7.2" fill="#1a1a1a" stroke="#1a1a1a" stroke-width="0.4"/>
<rect x="430.45" y="575.25" width="13.7" height="7" fill="url(#hB)" stroke="#9a9a9a" stroke-width="0.9"/>
<text x="449.8" y="556.2" font-size="11.2" textLength="35.5" lengthAdjust="spacingAndGlyphs">no virus</text>
<text x="449.8" y="569" font-size="11.2" textLength="46.5" lengthAdjust="spacingAndGlyphs">AdControl</text>
<text x="449.8" y="582" font-size="11.2" textLength="33.5" lengthAdjust="spacingAndGlyphs">AdBmx</text>
</svg></body></html>
